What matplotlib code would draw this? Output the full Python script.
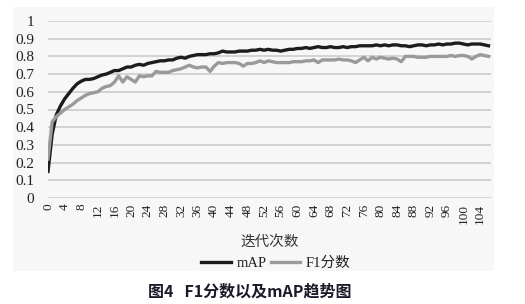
import matplotlib
matplotlib.use("Agg")
import matplotlib.pyplot as plt

iterations = list(range(107))
map_vals = [
    0.15, 0.36, 0.47, 0.52, 0.56, 0.59, 0.62, 0.645, 0.66, 0.67,
    0.67, 0.675, 0.685, 0.695, 0.70, 0.71, 0.72, 0.72, 0.73, 0.74,
    0.74, 0.75, 0.755, 0.75, 0.76, 0.765, 0.77, 0.775, 0.775, 0.78,
    0.78, 0.79, 0.795, 0.79, 0.80, 0.805, 0.81, 0.81, 0.81, 0.815,
    0.815, 0.82, 0.83, 0.825, 0.825, 0.825, 0.83, 0.83, 0.83, 0.835,
    0.835, 0.84, 0.835, 0.84, 0.835, 0.835, 0.83, 0.835, 0.84, 0.84,
    0.845, 0.845, 0.85, 0.845, 0.85, 0.855, 0.85, 0.85, 0.855, 0.85,
    0.85, 0.855, 0.85, 0.855, 0.855, 0.86, 0.86, 0.86, 0.86, 0.865,
    0.86, 0.865, 0.86, 0.865, 0.865, 0.86, 0.86, 0.855, 0.86, 0.865,
    0.865, 0.86, 0.865, 0.865, 0.87, 0.865, 0.87, 0.87, 0.875, 0.875,
    0.87, 0.865, 0.87, 0.87, 0.87, 0.865, 0.86,
]
f1_vals = [
    0.22, 0.43, 0.46, 0.48, 0.50, 0.515, 0.53, 0.55, 0.565, 0.58,
    0.59, 0.595, 0.60, 0.62, 0.63, 0.635, 0.655, 0.69, 0.655, 0.685,
    0.67, 0.655, 0.69, 0.685, 0.69, 0.69, 0.715, 0.71, 0.71, 0.71,
    0.72, 0.725, 0.73, 0.74, 0.75, 0.74, 0.735, 0.74, 0.74, 0.715,
    0.745, 0.765, 0.76, 0.765, 0.765, 0.765, 0.76, 0.745, 0.76, 0.76,
    0.765, 0.775, 0.765, 0.775, 0.77, 0.765, 0.765, 0.765, 0.765, 0.77,
    0.77, 0.77, 0.775, 0.775, 0.78, 0.765, 0.78, 0.78, 0.78, 0.78,
    0.785, 0.78, 0.78, 0.775, 0.765, 0.78, 0.795, 0.775, 0.795, 0.785,
    0.795, 0.79, 0.785, 0.79, 0.785, 0.77, 0.80, 0.80, 0.80, 0.795,
    0.795, 0.795, 0.80, 0.80, 0.80, 0.80, 0.80, 0.805, 0.80, 0.805,
    0.805, 0.80, 0.785, 0.80, 0.81, 0.805, 0.80,
]
y_ticks = [0, 0.1, 0.2, 0.3, 0.4, 0.5, 0.6, 0.7, 0.8, 0.9, 1]
y_labels = ["0", "0.1", "0.2", "0.3", "0.4", "0.5", "0.6", "0.7", "0.8", "0.9", "1"]
x_ticks = list(range(0, 105, 4))
series_names = ["mAP", "F1分数"]
x_title = "迭代次数"
caption = "图4   F1分数以及mAP趋势图"

W, H = 525, 304
fig = plt.figure(figsize=(W / 100, H / 100), dpi=100)
fig.patch.set_facecolor("white")

serif = ["Liberation Serif", "Noto Sans CJK SC", "DejaVu Sans"]
cjk = ["Noto Sans CJK SC", "DejaVu Sans"]

# chart panel background
bg = fig.add_axes([13 / W, 1 - 271 / H, (494 - 13) / W, (271 - 7) / H], zorder=-5)
bg.set_facecolor("#f7f7f7")
bg.set_xticks([])
bg.set_yticks([])
for s in bg.spines.values():
    s.set_visible(False)

ax = fig.add_axes([48 / W, 1 - 198 / H, (491 - 48) / W, (198 - 21) / H], zorder=1)
ax.set_facecolor("none")
ax.set_xlim(0, 106.6)
ax.set_ylim(0, 1)
for s in ax.spines.values():
    s.set_visible(False)
ax.set_yticks(y_ticks)
ax.set_yticklabels(y_labels, family=serif, fontsize=11, color="#222222")
ax.set_xticks(x_ticks)
ax.set_xticklabels([str(t) for t in x_ticks], family=serif, fontsize=9.5,
                   rotation=90, color="#222222")
ax.tick_params(axis="both", length=0)
ax.tick_params(axis="y", pad=10)
ax.tick_params(axis="x", pad=4)
ax.grid(axis="y", color="#c9c9c9", linewidth=1.1)
ax.set_axisbelow(True)

l1, = ax.plot(iterations, map_vals, color="#1c1c1c", linewidth=2.4,
              solid_joinstyle="round", label=series_names[0])
l2, = ax.plot(iterations, f1_vals, color="#9a9a9a", linewidth=2.4,
              solid_joinstyle="round", label=series_names[1])

fig.text(270 / W, 1 - 242 / H, x_title, family=cjk, fontsize=10.5,
         ha="center", va="center", color="#333333")

leg = fig.legend(handles=[l1, l2], loc="center", bbox_to_anchor=(276 / W, 1 - 263 / H),
                 ncol=2, frameon=False, handlelength=2.0, handletextpad=0.4,
                 columnspacing=0.3, prop={"family": serif, "size": 10.5})
for t in leg.get_texts():
    t.set_color("#222222")

fig.text(250 / W, 1 - 292 / H, caption, family=cjk, fontsize=11.5,
         fontweight="bold", ha="center", va="center", color="#1a1a2a")

fig.savefig("out.png", dpi=100, facecolor="white")
